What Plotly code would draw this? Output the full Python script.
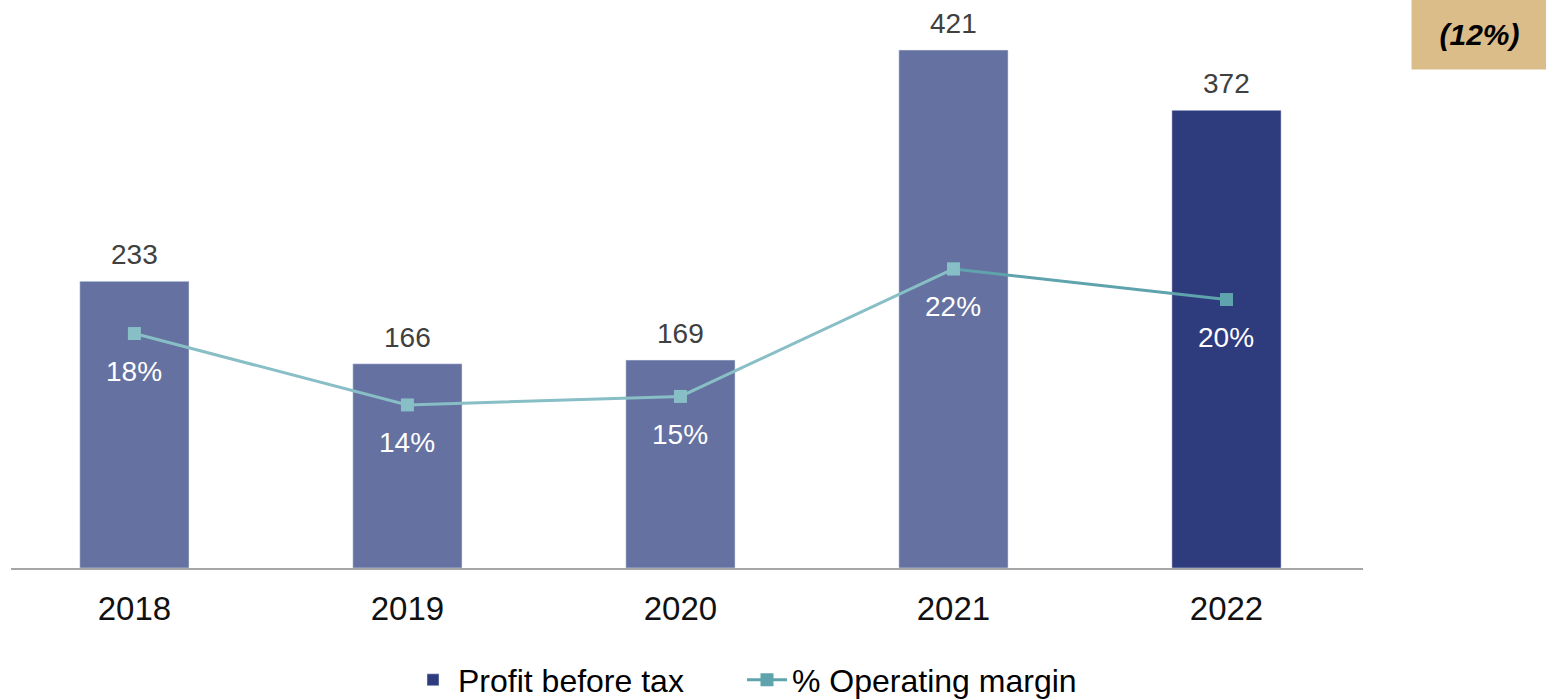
import plotly.graph_objects as go

years = ["2018", "2019", "2020", "2021", "2022"]
profit = [233, 166, 169, 421, 372]
margin = [18.4, 14.2, 14.7, 22.2, 20.4]
badge_text = "(12%)"

FONT = "Liberation Sans, Arial, sans-serif"
BAR_LIGHT = "#6571A0"
BAR_DARK = "#2E3B7D"
LINE_LIGHT = "#88BEC5"
LINE_DARK = "#5FA3AD"

fig = go.Figure()

fig.add_trace(go.Bar(x=years[:4], y=profit[:4], marker_color=BAR_LIGHT,
                     width=0.4, showlegend=False, hoverinfo="skip"))
fig.add_trace(go.Bar(x=years[4:], y=profit[4:], marker_color=BAR_DARK,
                     width=0.4, name="Profit before tax", legendrank=1))

fig.add_trace(go.Scatter(x=years[3:], y=margin[3:], yaxis="y2", mode="lines+markers",
                         line=dict(color=LINE_DARK, width=3),
                         marker=dict(symbol="square", size=13, color=LINE_DARK),
                         name="% Operating margin", legendrank=2))
fig.add_trace(go.Scatter(x=years[:4], y=margin[:4], yaxis="y2", mode="lines+markers",
                         line=dict(color=LINE_LIGHT, width=3),
                         marker=dict(symbol="square", size=13, color=LINE_LIGHT),
                         showlegend=False))

annotations = []
for i, v in enumerate(profit):
    annotations.append(dict(x=i, y=v, xref="x", yref="y", text=str(v), showarrow=False,
                            yanchor="bottom", yshift=9,
                            font=dict(family=FONT, size=28, color="#404040")))
for i, m in enumerate(margin):
    annotations.append(dict(x=i, y=m, xref="x", yref="y2", text=f"{m:.0f}%", showarrow=False,
                            yanchor="middle", yshift=-38,
                            font=dict(family=FONT, size=28, color="#FFFFFF")))

L, R, T, B = 11, 1546 - 1363, 20, 700 - 568
PW = 1546 - L - R
PH = 700 - T - B

annotations.append(dict(x=(1479.5 - L) / PW, y=(568 - 34) / PH, xref="paper", yref="paper",
                        text=f"<b><i>{badge_text}</i></b>", showarrow=False,
                        width=133, height=68, bgcolor="#DBBD8A",
                        xanchor="center", yanchor="middle",
                        font=dict(family=FONT, size=30, color="#000000")))

fig.update_layout(
    width=1546, height=700,
    margin=dict(l=L, r=R, t=T, b=B),
    paper_bgcolor="white", plot_bgcolor="white",
    barmode="overlay",
    font=dict(family=FONT, size=30, color="#000000"),
    xaxis=dict(type="category", range=[-0.452, 4.5], showline=True, linecolor="#A6A6A6",
               linewidth=2, ticks="", showgrid=False, ticklabelstandoff=10,
               tickfont=dict(family=FONT, size=33, color="#111111")),
    yaxis=dict(range=[0, 445.4], showticklabels=False, showgrid=False, zeroline=False,
               showline=False, ticks=""),
    yaxis2=dict(range=[4.61, 36.84], overlaying="y", showticklabels=False, showgrid=False,
                zeroline=False, showline=False, ticks=""),
    legend=dict(orientation="h", xref="container", yref="container",
                x=742 / 1546, xanchor="center", y=1 - 680 / 700, yanchor="middle",
                font=dict(family=FONT, size=32, color="#000000"), itemwidth=40,
                entrywidth=279, traceorder="normal"),
    annotations=annotations,
    showlegend=True,
)

fig.write_html("out.html", config={"displayModeBar": False},
               post_script="document.body.style.margin='0';")
